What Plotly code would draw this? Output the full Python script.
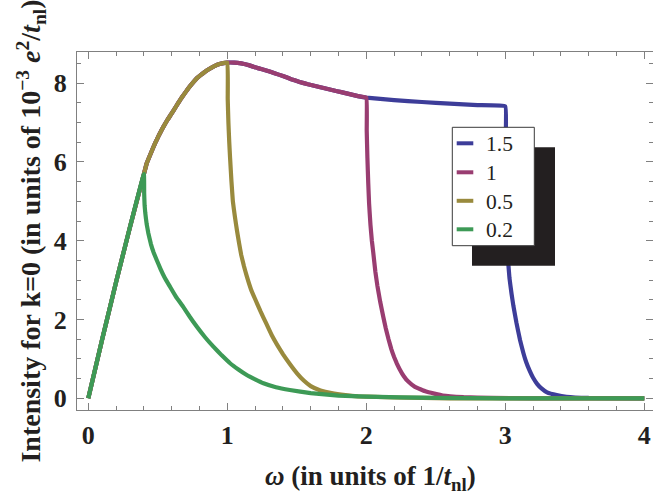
import plotly.graph_objects as go

# Common envelope (omega, intensity)
env_w = [0.0, 0.1, 0.2, 0.3, 0.4, 0.42, 0.45, 0.48, 0.51, 0.54, 0.57, 0.60, 0.63, 0.66, 0.69,
         0.72, 0.75, 0.78, 0.81, 0.84, 0.87, 0.90, 0.95, 1.0,
         1.05, 1.10, 1.16, 1.22, 1.28, 1.34, 1.40, 1.46, 1.52, 1.58, 1.64, 1.70, 1.76, 1.82,
         1.88, 1.94, 2.0, 2.2, 2.4, 2.6, 2.8, 3.0]
env_i = [0.0, 1.5, 2.95, 4.35, 5.69, 5.96, 6.22, 6.47, 6.69, 6.89, 7.07, 7.23, 7.40, 7.57, 7.72,
         7.87, 8.00, 8.12, 8.21, 8.29, 8.36, 8.42, 8.49, 8.52,
         8.52, 8.50, 8.45, 8.38, 8.32, 8.25, 8.18, 8.10, 8.03, 7.97, 7.92, 7.87, 7.82, 7.77,
         7.72, 7.67, 7.63, 7.57, 7.52, 7.48, 7.44, 7.41]

# Tails after each cutoff
tail_15_w = [3.003, 3.006, 3.01, 3.015, 3.02, 3.03, 3.045, 3.058, 3.08, 3.106, 3.13, 3.15, 3.175,
             3.2, 3.23, 3.26, 3.3, 3.37, 3.44, 3.6, 4.0]
tail_15_i = [6.6, 5.9, 5.1, 4.2, 3.5, 3.05, 2.65, 2.35, 1.92, 1.48, 1.15, 0.92, 0.7,
             0.52, 0.36, 0.25, 0.15, 0.08, 0.04, 0.01, 0.0]

tail_1_w = [2.003, 2.008, 2.014, 2.02, 2.03, 2.04, 2.05, 2.065, 2.08, 2.10, 2.122, 2.14, 2.16,
            2.18, 2.2, 2.22, 2.24, 2.27, 2.3, 2.35, 2.43, 2.55, 2.7, 2.9, 3.2, 4.0]
tail_1_i = [6.8, 6.1, 5.46, 4.95, 4.4, 4.0, 3.7, 3.22, 2.85, 2.45, 2.07, 1.78, 1.5,
            1.25, 1.05, 0.88, 0.74, 0.56, 0.43, 0.29, 0.17, 0.07, 0.03, 0.01, 0.0, 0.0]

tail_05_w = [1.003, 1.008, 1.014, 1.02, 1.03, 1.04, 1.055, 1.07, 1.085, 1.10, 1.12, 1.14, 1.17,
             1.20, 1.24, 1.28, 1.32, 1.36, 1.40, 1.45, 1.50, 1.55, 1.60, 1.67, 1.75, 1.85,
             1.94, 2.2, 2.6, 4.0]
tail_05_i = [7.6, 7.0, 6.5, 6.1, 5.5, 5.0, 4.6, 4.25, 3.93, 3.64, 3.35, 3.1, 2.77,
             2.52, 2.2, 1.9, 1.6, 1.35, 1.12, 0.87, 0.64, 0.45, 0.31, 0.2, 0.13, 0.08,
             0.05, 0.02, 0.0, 0.0]

tail_02_w = [0.402, 0.405, 0.41, 0.42, 0.432, 0.45, 0.47, 0.492, 0.52, 0.55, 0.588, 0.63, 0.683,
             0.73, 0.78, 0.84, 0.90, 0.96, 1.02, 1.08, 1.14, 1.20, 1.26, 1.35, 1.45, 1.6,
             1.8, 2.0, 2.5, 3.0, 4.0]
tail_02_i = [5.2, 4.9, 4.7, 4.42, 4.19, 3.92, 3.70, 3.51, 3.28, 3.06, 2.83, 2.58, 2.32,
             2.07, 1.82, 1.55, 1.31, 1.09, 0.89, 0.73, 0.59, 0.48, 0.38, 0.28, 0.21, 0.13,
             0.07, 0.04, 0.01, 0.0, 0.0]

labels = ["1.5", "1", "0.5", "0.2"]
cutoffs = [3.0, 2.0, 1.0, 0.4]
tails = [(tail_15_w, tail_15_i), (tail_1_w, tail_1_i), (tail_05_w, tail_05_i), (tail_02_w, tail_02_i)]
colors = ["#3d3d99", "#993d71", "#998a3d", "#3d9a56"]

xticks = [0, 1, 2, 3, 4]
yticks = [0, 2, 4, 6, 8]
x_title = "<i>ω</i> (in units of 1/<i>t</i><sub>nl</sub>)"
y_title = "Intensity for k=0 (in units of 10<sup>−3</sup> <i>e</i><sup>2</sup>/<i>t</i><sub>nl</sub>)"

fig = go.Figure()
for lab, cut, (tw, ti), col in zip(labels, cutoffs, tails, colors):
    xs = [w for w in env_w if w <= cut] + tw
    ys = [v for w, v in zip(env_w, env_i) if w <= cut] + ti
    fig.add_trace(go.Scatter(x=xs, y=ys, mode="lines", name=lab,
                             line=dict(color=col, width=4.2, shape="spline", smoothing=0.25)))

W, H = 653, 495
L, R, T, B = 77, 0, 52, 85
pw, ph = W - L - R, H - T - B

def px2paper(x, y):
    return (x - L) / pw, (H - B - y) / ph

serif = "Liberation Serif"

# Legend drawn by hand: drop shadow, white box, line samples and labels
sx0, sy0 = px2paper(472, 265.7)
sx1, sy1 = px2paper(555, 147.3)
fig.add_shape(type="rect", xref="paper", yref="paper", x0=sx0, y0=sy0, x1=sx1, y1=sy1,
              fillcolor="#231f20", line=dict(width=0), layer="above")
bx0, by0 = px2paper(452.3, 245.7)
bx1, by1 = px2paper(534.3, 127.3)
fig.add_shape(type="rect", xref="paper", yref="paper", x0=bx0, y0=by0, x1=bx1, y1=by1,
              fillcolor="white", line=dict(width=1, color="#3a3a3a"), layer="above")
row_y = [143.3, 172.3, 200.8, 229.3]
for lab, col, ry in zip(labels, colors, row_y):
    ax0, ay = px2paper(456.7, ry)
    ax1, _ = px2paper(473.3, ry)
    fig.add_shape(type="line", xref="paper", yref="paper", x0=ax0, y0=ay, x1=ax1, y1=ay,
                  line=dict(color=col, width=4), layer="above")
    tx, ty = px2paper(483.5, ry + 1)
    fig.add_annotation(text=lab, xref="paper", yref="paper", x=tx, y=ty,
                       xanchor="left", yanchor="middle", showarrow=False,
                       font=dict(family=serif, size=21.5, color="#231f20"))

# x-axis title placed as text below the axis
xtx, xty = px2paper(370, 478)
fig.add_annotation(text=x_title, xref="paper", yref="paper", x=xtx, y=xty,
                   xanchor="center", yanchor="middle", showarrow=False,
                   font=dict(family=serif, size=27, color="#231f20", weight="bold"))

axis_common = dict(
    showline=True, linecolor="#808080", linewidth=1, mirror="ticks",
    ticks="inside", ticklen=7, tickcolor="#808080", tickwidth=1,
    showgrid=False, zeroline=False,
    tickfont=dict(family=serif, size=26, color="#231f20", weight="bold"),
)

fig.update_xaxes(range=[-0.0813, (W - L) / 139.0 - 0.0813], tickvals=xticks,
                 minor=dict(ticks="inside", dtick=0.2, ticklen=4, tickcolor="#808080"),
                 ticklabelstandoff=2,
                 **axis_common)
fig.update_yaxes(range=[(398.3 - (H - B)) / 39.4, (398.3 - T) / 39.4], tickvals=yticks,
                 minor=dict(ticks="inside", dtick=0.5, ticklen=4, tickcolor="#808080"),
                 ticklabelstandoff=4,
                 title=dict(text=y_title,
                            font=dict(family=serif, size=28, color="#231f20", weight="bold"),
                            standoff=4),
                 **axis_common)

fig.update_layout(
    width=W, height=H,
    margin=dict(l=L, r=R, t=T, b=B, autoexpand=False),
    paper_bgcolor="white", plot_bgcolor="white",
    showlegend=False,
)

fig.write_html("out.html", config={"displayModeBar": False},
               post_script="document.body.style.margin='0';document.body.style.overflow='hidden';")
